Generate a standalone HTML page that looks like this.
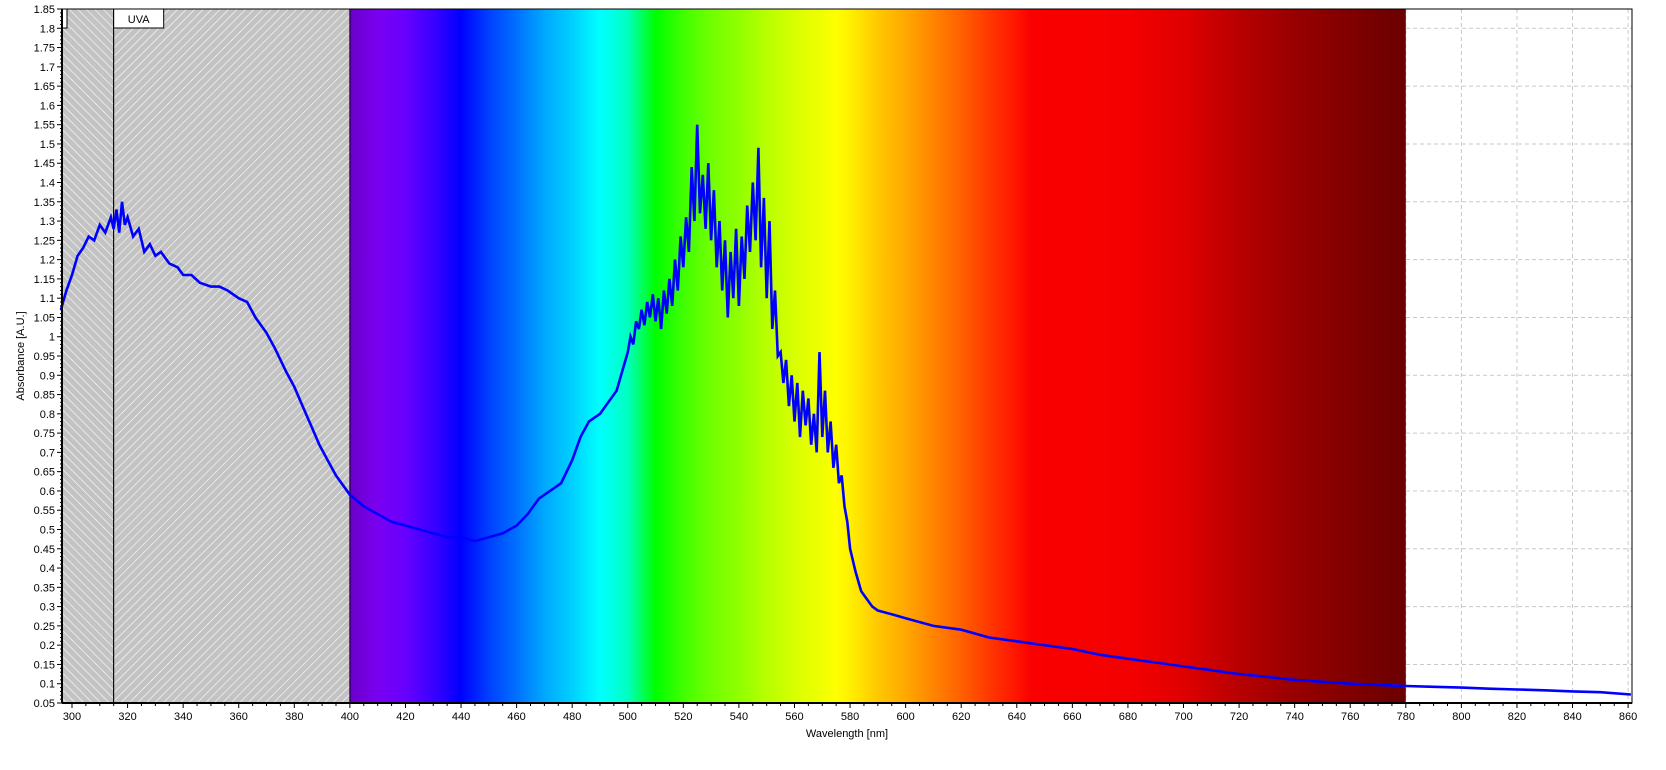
<!DOCTYPE html>
<html><head><meta charset="utf-8"><style>
html,body{margin:0;padding:0;background:#fff;}
svg{display:block;font-family:"Liberation Sans",sans-serif;}
</style></head><body>
<svg id="chart" width="1666" height="770" xmlns="http://www.w3.org/2000/svg">
<defs>
<pattern id="hatchR" patternUnits="userSpaceOnUse" width="6" height="6" patternTransform="rotate(45)"><rect width="6" height="6" fill="#c3c3c3"/><line x1="0" y1="0" x2="0" y2="6" stroke="#fff" stroke-width="1.2"/></pattern>
<pattern id="hatchL" patternUnits="userSpaceOnUse" width="6" height="6" patternTransform="rotate(-45)"><rect width="6" height="6" fill="#c3c3c3"/><line x1="0" y1="0" x2="0" y2="6" stroke="#fff" stroke-width="1.2"/></pattern>
</defs>
</svg>
<script>
const xTicks=[300,320,340,360,380,400,420,440,460,480,500,520,540,560,580,600,620,640,660,680,700,720,740,760,780,800,820,840,860];
const yTicks=[0.05,0.1,0.15,0.2,0.25,0.3,0.35,0.4,0.45,0.5,0.55,0.6,0.65,0.7,0.75,0.8,0.85,0.9,0.95,1,1.05,1.1,1.15,1.2,1.25,1.3,1.35,1.4,1.45,1.5,1.55,1.6,1.65,1.7,1.75,1.8,1.85];
const yGrid=[0.15,0.3,0.45,0.6,0.75,0.9,1.05,1.2,1.35,1.5,1.65,1.8];
const wl=[296,298,300,302,304,306,308,310,312,314,315,316,317,318,319,320,322,324,326,328,330,332,335,338,340,343,346,350,353,356,360,363,366,370,373,377,380,383,386,389,392,395,400,405,410,415,420,425,430,435,440,445,450,455,460,464,468,472,476,480,483,486,490,493,496,498,500,501,502,503,504,505,506,507,508,509,510,511,512,513,514,515,516,517,518,519,520,521,522,523,524,525,526,527,528,529,530,531,532,533,534,535,536,537,538,539,540,541,542,543,544,545,546,547,548,549,550,551,552,553,554,555,556,557,558,559,560,561,562,563,564,565,566,567,568,569,570,571,572,573,574,575,576,577,578,579,580,582,584,586,588,590,595,600,610,620,630,640,650,660,670,680,690,700,710,720,730,740,750,760,770,780,790,800,810,820,830,840,850,861];
const absorb=[1.07,1.12,1.16,1.21,1.23,1.26,1.25,1.29,1.27,1.31,1.28,1.33,1.27,1.35,1.29,1.31,1.26,1.28,1.22,1.24,1.21,1.22,1.19,1.18,1.16,1.16,1.14,1.13,1.13,1.12,1.10,1.09,1.05,1.01,0.97,0.91,0.87,0.82,0.77,0.72,0.68,0.64,0.59,0.56,0.54,0.52,0.51,0.50,0.49,0.48,0.48,0.47,0.48,0.49,0.51,0.54,0.58,0.60,0.62,0.68,0.74,0.78,0.80,0.83,0.86,0.91,0.96,1.00,0.98,1.04,1.02,1.07,1.03,1.09,1.05,1.11,1.04,1.10,1.02,1.12,1.06,1.15,1.08,1.20,1.12,1.26,1.18,1.31,1.22,1.44,1.30,1.55,1.32,1.42,1.28,1.45,1.25,1.38,1.18,1.30,1.12,1.25,1.05,1.22,1.10,1.28,1.08,1.26,1.15,1.34,1.22,1.40,1.25,1.49,1.18,1.36,1.10,1.30,1.02,1.12,0.95,0.96,0.88,0.94,0.82,0.90,0.78,0.88,0.74,0.86,0.77,0.84,0.72,0.80,0.70,0.96,0.74,0.86,0.70,0.78,0.66,0.72,0.62,0.64,0.56,0.52,0.45,0.39,0.34,0.32,0.30,0.29,0.28,0.27,0.25,0.24,0.22,0.21,0.20,0.19,0.175,0.165,0.155,0.145,0.135,0.125,0.118,0.11,0.105,0.1,0.097,0.094,0.092,0.09,0.087,0.085,0.083,0.08,0.078,0.072];
const specWl=[400,410,420,432,440,450,460,470,480,490,500,505,510,520,530,540,550,560,570,575,580,590,600,610,620,630,640,645,660,680,700,720,740,760,780];
const specCol=["#6a00c8","#7a00f0","#6800ff","#3000ff","#0000ff","#0040ff","#0070ff","#00a8ff","#00d0ff","#00ffff","#00ffc0","#00ff60","#00ff00","#40ff00","#70ff00","#90ff00","#b8ff00","#d8ff00","#f0ff00","#ffff00","#fff000","#ffc800","#ffa800","#ff8400","#ff6000","#ff3800","#ff1400","#fa0000","#f80000","#f40000","#e00000","#b80000","#980000","#800000","#6a0000"];
const NS="http://www.w3.org/2000/svg";
const svg=document.getElementById('chart');
const L=62,R=1632,T=9,B=703,XMIN=296.4,XMAX=861.4,YMIN=0.05,YMAX=1.85;
const X=w=>L+(w-XMIN)/(XMAX-XMIN)*(R-L);
const Y=v=>B-(v-YMIN)/(YMAX-YMIN)*(B-T);
function mk(tag,attrs,parent){const e=document.createElementNS(NS,tag);for(const k in attrs)e.setAttribute(k,attrs[k]);(parent||svg).appendChild(e);return e;}
const grid=mk('g',{});


xTicks.forEach(t=>mk('line',{x1:X(t),x2:X(t),y1:T,y2:B,stroke:'#c8c8c8','stroke-dasharray':'4,3'},grid));
yGrid.forEach(t=>mk('line',{x1:L,x2:R,y1:Y(t),y2:Y(t),stroke:'#c8c8c8','stroke-dasharray':'4,3'},grid));
const lg=mk('linearGradient',{id:'spec',gradientUnits:'userSpaceOnUse',x1:X(400),x2:X(780),y1:0,y2:0},svg.querySelector('defs'));
specWl.forEach((w,i)=>mk('stop',{offset:(w-400)/380,'stop-color':specCol[i]},lg));
const sp=mk('rect',{x:X(400),y:T,width:X(780)-X(400),height:B-T,fill:'url(#spec)'});


const h1=mk('rect',{x:L,y:T,width:X(315)-L,height:B-T,fill:'url(#hatchL)',stroke:'#000','stroke-width':1});


const h2=mk('rect',{x:X(315),y:T,width:X(400)-X(315),height:B-T,fill:'url(#hatchR)',stroke:'#000','stroke-width':1});


const b1=mk('rect',{x:L,y:T,width:5,height:19,fill:'#fff',stroke:'#000'});


const b2=mk('rect',{x:X(315),y:T,width:50,height:19,fill:'#fff',stroke:'#000'});


const ut=mk('text',{x:X(315)+25,y:T+14,'font-size':11,'text-anchor':'middle'});ut.textContent='UVA';


let d='';wl.forEach((w,i)=>{d+=(i?'L':'M')+X(w).toFixed(1)+','+Y(absorb[i]).toFixed(1);});
const ln=mk('path',{d:d,fill:'none',stroke:'#0000ff','stroke-width':2.6,'stroke-linejoin':'miter'});


const fr=mk('rect',{x:L,y:T,width:R-L,height:B-T,fill:'none',stroke:'#000','stroke-width':1});


mk('line',{x1:L,x2:L,y1:T,y2:B,stroke:'#000','stroke-width':2});
mk('line',{x1:L,x2:R,y1:B,y2:B,stroke:'#000','stroke-width':2});
const xa=mk('g',{});


for(let w=300;w<=860;w+=5){mk('line',{x1:X(w),x2:X(w),y1:B,y2:B+(w%20===0?5:3),stroke:'#000'},xa);}
xTicks.forEach(t=>{const e=mk('text',{x:X(t),y:B+17,'font-size':11,'text-anchor':'middle'},xa);e.textContent=t;});
const ya=mk('g',{});


for(let v=5;v<=185;v++){mk('line',{x1:L-(v%5===0?5:2),x2:L,y1:Y(v/100),y2:Y(v/100),stroke:'#000'},ya);}
yTicks.forEach(t=>{const e=mk('text',{x:L-7,y:Y(t)+4,'font-size':11,'text-anchor':'end'},ya);e.textContent=String(t);});
const xt=mk('text',{x:(L+R)/2,y:737,'font-size':11,'text-anchor':'middle'});xt.textContent='Wavelength [nm]';


const yt=mk('text',{x:0,y:0,'font-size':11,'text-anchor':'middle',transform:'translate(24,'+((T+B)/2)+') rotate(-90)'});yt.textContent='Absorbance [A.U.]';


</script>
</body></html>
